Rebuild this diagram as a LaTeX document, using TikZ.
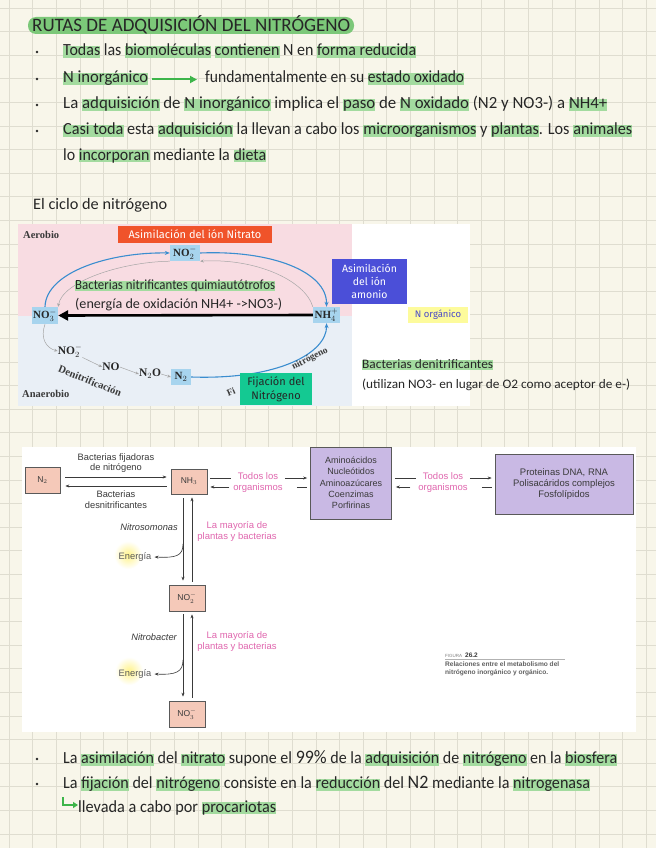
\documentclass[tikz,border=0pt]{standalone}
\usepackage{fontspec}
\usepackage{graphicx}
\setmainfont{Carlito}
\newfontfamily\figfont{Liberation Sans}
\newfontfamily\serfont{Liberation Serif}
\newfontfamily\boxfont{Fira Sans}
\usetikzlibrary{arrows.meta,calc}
\definecolor{paper}{HTML}{F8F6EA}
\definecolor{gridc}{HTML}{DFDDD0}
\definecolor{ink}{HTML}{262626}
\definecolor{hlg}{HTML}{A3DB9F}
\definecolor{titleg}{HTML}{7CC879}
\definecolor{arrg}{HTML}{3DB54A}
\definecolor{pinkbg}{HTML}{F8DCE2}
\definecolor{bluebg}{HTML}{E9EFF6}
\definecolor{orangec}{HTML}{F0532A}
\definecolor{noblue}{HTML}{A7D4EE}
\definecolor{cycblue}{HTML}{3A8DCF}
\definecolor{tealc}{HTML}{14C992}
\definecolor{amblue}{HTML}{4B4FD8}
\definecolor{yellc}{HTML}{FDFB9C}
\definecolor{norgtxt}{HTML}{4A4AC8}
\definecolor{pinkbox}{HTML}{F5C9B9}
\definecolor{purpbox}{HTML}{C9B9E4}
\definecolor{figtxt}{HTML}{3A3A3A}
\definecolor{pinktxt}{HTML}{E066AE}
\definecolor{glowc}{HTML}{FFF38A}
\newcommand\hlw[1]{\setbox0\hbox{#1}\rlap{\textcolor{hlg}{\rule[-0.14em]{\wd0}{0.72em}}}#1}
\newcommand\fitline[2]{\resizebox{#1}{\height}{#2}}
\tikzset{
  handtxt/.style={anchor=base west, inner sep=0pt, text=ink, font=\fontsize{17}{17}\selectfont},
  cyctxt/.style={anchor=base west, inner sep=0pt, text=ink, font=\fontsize{14}{14}\selectfont},
  bulletdot/.style={circle, fill=ink, inner sep=0pt, minimum size=2.6pt},
  nobox/.style={fill=noblue, inner sep=0pt, font=\serfont\bfseries\fontsize{11}{11}\selectfont, text=ink},
  sertxt/.style={inner sep=0pt, font=\serfont\bfseries\fontsize{10.5}{10.5}\selectfont, text=figtxt},
  chaintxt/.style={inner sep=0pt, font=\serfont\bfseries\fontsize{11.5}{11.5}\selectfont, text=ink},
  bluearr/.style={draw=cycblue, line width=1.1pt, -{Stealth[length=5pt,width=4pt]}},
  greyarr/.style={draw=gray!70, line width=0.5pt, -{Stealth[length=3.5pt,width=3pt]}},
  colbox/.style={inner sep=1pt, align=center, font=\boxfont\fontsize{11}{13}\selectfont},
  pinkb/.style={draw=gray!70!black, line width=0.7pt, fill=pinkbox, inner sep=0pt, font=\figfont\fontsize{8.5}{9}\selectfont, text=figtxt},
  purpb/.style={draw=gray!70!black, line width=0.7pt, fill=purpbox, inner sep=0pt, align=center, font=\figfont\fontsize{9}{11.3}\selectfont, text=figtxt},
  figlab/.style={inner sep=0pt, align=center, font=\figfont\fontsize{9.3}{10.8}\selectfont, text=figtxt},
  piklab/.style={inner sep=0pt, align=center, font=\figfont\fontsize{9.5}{11}\selectfont, text=pinktxt},
  farr/.style={draw=figtxt, line width=0.6pt, -{Stealth[length=4pt,width=3pt]}},
  fline/.style={draw=figtxt, line width=0.6pt},
}
\begin{document}
\begin{tikzpicture}[x=1pt,y=-1pt]
\useasboundingbox (0,0) rectangle (656,848);
\fill[paper] (0,0) rectangle (656,848);
\foreach \gx in {9.3,32.9,...,656} \draw[gridc, line width=0.9pt] (\gx,0) -- (\gx,848);
\foreach \gy in {8.1,31.7,...,848} \draw[gridc, line width=0.9pt] (0,\gy) -- (656,\gy);

% ---------- title and bullets ----------
\fill[titleg, rounded corners=8pt] (28,17) rectangle (354,34);
\node[handtxt, font=\fontsize{19}{19}\selectfont] (title) at (32,31.5) {\fitline{318pt}{RUTAS DE ADQUISICIÓN DEL NITRÓGENO}};

\node[bulletdot] (b1) at (37,52) {};
\node[bulletdot] (b2) at (37,79) {};
\node[bulletdot] (b3) at (37,105) {};
\node[bulletdot] (b4) at (37,131) {};
\node[handtxt] (l1) at (63,56) {\fitline{353pt}{\hlw{Todas} las \hlw{biomoléculas} \hlw{contienen} N en \hlw{forma reducida}}};
\node[handtxt] (l2a) at (63,83) {\fitline{85pt}{\hlw{N inorgánico}}};
\node[handtxt] (l2b) at (205,83) {\fitline{259pt}{fundamentalmente en su \hlw{estado oxidado}}};
\draw[arrg, line width=2pt, -{Triangle[length=7pt,width=7pt]}] ([xshift=4pt,yshift=3.5pt]l2a.base east) -- ([xshift=-8pt,yshift=3.5pt]l2b.base west);
\node[handtxt] (l3) at (63,109) {\fitline{544pt}{La \hlw{adquisición} de \hlw{N inorgánico} implica el \hlw{paso} de \hlw{N oxidado} (N2 y NO3-) a \hlw{NH4+}}};
\node[handtxt] (l4) at (63,135) {\fitline{569pt}{\hlw{Casi toda} esta \hlw{adquisición} la llevan a cabo los \hlw{microorganismos} y \hlw{plantas}. Los \hlw{animales}}};
\node[handtxt] (l5) at (63,160) {\fitline{203pt}{lo \hlw{incorporan} mediante la \hlw{dieta}}};

\node[handtxt, font=\fontsize{16}{16}\selectfont] (ciclo) at (33,209) {\fitline{134pt}{El ciclo de nitrógeno}};

% ---------- nitrogen cycle picture ----------
\fill[white] (18,224) rectangle (470,406);
\fill[pinkbg] (18,224) rectangle (352,316);
\fill[bluebg] (18,316) rectangle (352,406);
\node[sertxt, anchor=west] (aer) at (23,235) {Aerobio};
\node[sertxt, anchor=west] (anaer) at (22,394) {Anaerobio};

\node[colbox, fill=orangec, text=white, minimum width=154pt, minimum height=17pt] (asnit) at (195,234.5) {Asimilación del ión Nitrato};
\node[nobox, minimum width=30pt, minimum height=16pt] (no2) at (185,253) {NO$_2^-$};
\node[nobox, minimum width=26pt, minimum height=17pt] (no3) at (45,315.5) {NO$_3^-$};
\node[nobox, minimum width=27pt, minimum height=16pt] (nh4) at (326.5,315) {NH$_4^+$};
\node[nobox, minimum width=20pt, minimum height=16pt] (n2) at (181,377) {N$_2$};

\draw[greyarr] (nh4.north west) .. controls (305,280) and (255,258) .. (no2.south east);
\draw[greyarr] (no2.south west) .. controls (120,262) and (62,282) .. (no3.north east);
\draw[bluearr] (no3.north) .. controls (46,272) and (110,252) .. (no2.west);
\draw[bluearr] (no2.east) .. controls (272,250) and (327,272) .. (nh4.north);
\draw[line width=2.6pt, -{Triangle[length=10pt,width=10pt]}] (nh4.west) -- (no3.east);

\node[chaintxt] (dno2) at (70,351) {NO$_2^-$};
\node[chaintxt] (dno) at (111,367) {NO};
\node[chaintxt] (dn2o) at (150,374) {N$_2$O};
\draw[greyarr] (no3.south) .. controls (40,338) and (46,348) .. (dno2.west);
\draw[greyarr] (dno2.south east) -- (dno.west);
\draw[greyarr] (dno.east) -- (dn2o.west);
\draw[greyarr] (dn2o.east) -- (n2.west);
\draw[bluearr] (n2.east) .. controls (280,380) and (327,352) .. (nh4.south);
\node[sertxt, rotate=-22] (denit) at (90,381) {Denitrificación};
\node[sertxt, rotate=22, font=\serfont\bfseries\fontsize{9.5}{9.5}\selectfont] (fi) at (231,392) {Fi};
\node[sertxt, rotate=27, font=\serfont\bfseries\fontsize{9.5}{9.5}\selectfont] (fnit) at (310,359) {nitrógeno};

\node[colbox, fill=tealc, text=ink, minimum width=72pt, minimum height=32pt, font=\boxfont\fontsize{11}{14}\selectfont] (fij) at (276,389) {Fijación del\\Nitrógeno};
\node[colbox, fill=amblue, text=white, minimum width=75pt, minimum height=45pt, font=\boxfont\fontsize{10.5}{13}\selectfont] (asam) at (369.5,281.5) {Asimilación\\del ión\\amonio};
\node[colbox, fill=yellc, text=norgtxt, minimum width=60pt, minimum height=16pt, font=\boxfont\fontsize{9.5}{10}\selectfont] (norg) at (438,315) {N orgánico};

\node[cyctxt] (bnit) at (75,289) {\fitline{200pt}{\hlw{Bacterias nitrificantes quimiautótrofos}}};
\node[cyctxt] (enox) at (75,308) {\fitline{207pt}{(energía de oxidación NH4+ ->NO3-)}};
\node[cyctxt, font=\fontsize{13}{13}\selectfont] (bden) at (362,368) {\fitline{131pt}{\hlw{Bacterias denitrificantes}}};
\node[cyctxt, font=\fontsize{13}{13}\selectfont] (util) at (362,388) {\fitline{268pt}{(utilizan NO3- en lugar de O2 como aceptor de e-)}};

% ---------- metabolism figure ----------
\fill[white] (22,447) rectangle (636,732);
\node[pinkb, minimum width=35pt, minimum height=26pt] (n2b) at (42.5,480) {N$_2$};
\node[pinkb, minimum width=36pt, minimum height=25pt] (nh3) at (189,481.5) {NH$_3$};
\node[purpb, minimum width=81pt, minimum height=72pt] (amino) at (351,483) {Aminoácidos\\Nucleótidos\\Aminoazúcares\\Coenzimas\\Porfirinas};
\node[purpb, minimum width=138pt, minimum height=60pt, font=\figfont\fontsize{9.5}{11.3}\selectfont] (prot) at (564,484) {Proteinas DNA, RNA\\Polisacáridos complejos\\Fosfolípidos};
\node[pinkb, minimum width=36pt, minimum height=26pt] (no2b) at (187,598) {NO$_2^-$};
\node[pinkb, minimum width=36pt, minimum height=26pt] (no3b) at (187,714) {NO$_3^-$};

\draw[farr] ($(n2b.east)+(5,-3)$) -- ($(nh3.west)+(-4,-4.5)$);
\draw[farr] ($(nh3.west)+(-4,4.5)$) -- ($(n2b.east)+(5,6)$);
\node[figlab] (bfij) at (116,463) {Bacterias fijadoras\\de nitrógeno};
\node[figlab] (bdes) at (116,499.5) {Bacterias\\desnitrificantes};

\node[piklab] (tod1) at (258,483) {Todos los\\organismos};
\node[piklab] (tod2) at (443,483) {Todos los\\organismos};
\draw[fline] ($(nh3.east)+(3,-3.5)$) -- ($(tod1.west)+(-2,-5)$);
\draw[farr] ($(tod1.east)+(2,-5)$) -- ($(amino.west)+(-3,-5)$);
\draw[farr] ($(tod1.west)+(-4,4)$) -- ($(nh3.east)+(3,5.5)$);
\draw[fline] ($(tod1.east)+(14,4)$) -- ($(amino.west)+(-3,4)$);
\draw[fline] ($(amino.east)+(3,-5)$) -- ($(tod2.west)+(-2,-5)$);
\draw[farr] ($(tod2.east)+(2,-5)$) -- ($(prot.west)+(-3,-6)$);
\draw[farr] ($(tod2.west)+(-8,4)$) -- ($(amino.east)+(4,4)$);
\draw[fline] ($(tod2.east)+(14,4)$) -- ($(prot.west)+(-3,3)$);

\draw[farr] ($(nh3.south)+(-6,4)$) -- ($(no2b.north)+(-4,-4)$);
\draw[farr] ($(no2b.north)+(5,-3)$) -- ($(nh3.south)+(3,3)$);
\draw[farr] ($(no2b.south)+(-4,3)$) -- ($(no3b.north)+(-4,-4)$);
\draw[farr] ($(no3b.north)+(5,-3)$) -- ($(no2b.south)+(5,3)$);

\shade[inner color=glowc, outer color=white] (128,555) circle (14pt);
\shade[inner color=glowc, outer color=white] (129,671) circle (14pt);
\node[figlab, text=gray!70!black] (en1) at (135,557) {Energía};
\node[figlab, text=gray!70!black] (en2) at (135,674) {Energía};
\coordinate (c1) at (183,544);
\coordinate (c2) at (183,660);
\draw[farr] (c1) .. controls (183,556) and (176,558) .. ($(en1.east)+(3,0)$);
\draw[farr] (c2) .. controls (183,672) and (176,675) .. ($(en2.east)+(3,0)$);
\node[figlab, anchor=east, font=\figfont\itshape\fontsize{9.3}{10}\selectfont] (nsom) at (178,527) {Nitrosomonas};
\node[figlab, anchor=east, font=\figfont\itshape\fontsize{9.3}{10}\selectfont] (nbac) at (177,637) {Nitrobacter};
\node[piklab] (may1) at (237,531.5) {La mayoría de\\plantas y bacterias};
\node[piklab] (may2) at (237,641) {La mayoría de\\plantas y bacterias};

\node[inner sep=0pt, anchor=base west, font=\figfont\fontsize{4.5}{4.5}\selectfont, text=gray] (figw) at (445,657) {FIGURA};
\node[inner sep=0pt, anchor=base west, font=\figfont\bfseries\fontsize{6.5}{6.5}\selectfont, text=figtxt] (fign) at (465,657) {26.2};
\draw[gray!60, line width=0.8pt] (445,659.5) -- (565,659.5);
\node[inner sep=0pt, anchor=west, align=left, font=\figfont\bfseries\fontsize{6.6}{7.6}\selectfont, text=figtxt!80] (cap) at (445,668.5) {Relaciones entre el metabolismo del\\nitrógeno inorgánico y orgánico.};

% ---------- bottom text ----------
\node[bulletdot] (b5) at (37,759) {};
\node[bulletdot] (b6) at (37,784) {};
\node[handtxt] (m1) at (63,763.5) {\fitline{554pt}{La \hlw{asimilación} del \hlw{nitrato} supone el {\fontsize{19}{19}\selectfont 99\%} de la \hlw{adquisición} de \hlw{nitrógeno} en la \hlw{biosfera}}};
\node[handtxt] (m2) at (63,788.5) {\fitline{527pt}{La \hlw{fijación} del \hlw{nitrógeno} consiste en la \hlw{reducción} del {\fontsize{19}{19}\selectfont N2} mediante la \hlw{nitrogenasa}}};
\node[handtxt] (m3) at (78,812) {\fitline{198pt}{llevada a cabo por \hlw{procariotas}}};
\coordinate (hk) at (63,797);
\draw[arrg, line width=2pt, -{Triangle[length=5pt,width=6pt]}] (hk) -- (63,805) -- (m3.west |- 63,805);
\end{tikzpicture}
\end{document}
